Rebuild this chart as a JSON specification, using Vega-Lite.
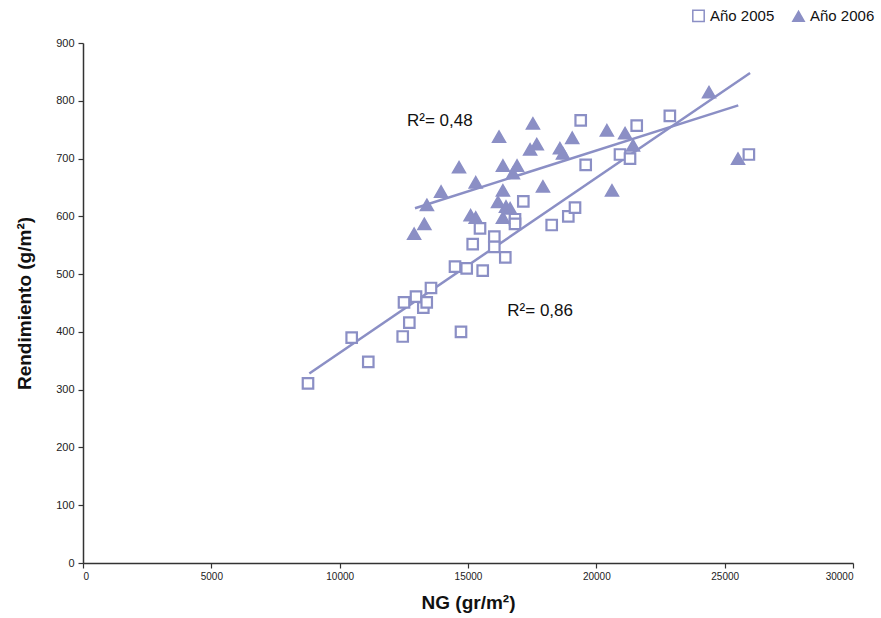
{
  "$schema": "https://vega.github.io/schema/vega-lite/v6.json",
  "width": 770,
  "height": 520,
  "autosize": {"type": "none"},
  "padding": {"left": 83, "top": 43, "right": 28, "bottom": 55},
  "background": "white",
  "config": {"view": {"stroke": null}, "font": "Liberation Sans"},
  "datasets": {
    "points": [
      {"ng": 8766, "rend": 311, "serie": "Año 2005"},
      {"ng": 10468, "rend": 390, "serie": "Año 2005"},
      {"ng": 11115, "rend": 348, "serie": "Año 2005"},
      {"ng": 12456, "rend": 392, "serie": "Año 2005"},
      {"ng": 12507, "rend": 451, "serie": "Año 2005"},
      {"ng": 12714, "rend": 416, "serie": "Año 2005"},
      {"ng": 12974, "rend": 461, "serie": "Año 2005"},
      {"ng": 13259, "rend": 442, "serie": "Año 2005"},
      {"ng": 13392, "rend": 451, "serie": "Año 2005"},
      {"ng": 13558, "rend": 476, "serie": "Año 2005"},
      {"ng": 14494, "rend": 513, "serie": "Año 2005"},
      {"ng": 14727, "rend": 400, "serie": "Año 2005"},
      {"ng": 14949, "rend": 510, "serie": "Año 2005"},
      {"ng": 15573, "rend": 506, "serie": "Año 2005"},
      {"ng": 15183, "rend": 552, "serie": "Año 2005"},
      {"ng": 15468, "rend": 579, "serie": "Año 2005"},
      {"ng": 16025, "rend": 565, "serie": "Año 2005"},
      {"ng": 16025, "rend": 547, "serie": "Año 2005"},
      {"ng": 16453, "rend": 529, "serie": "Año 2005"},
      {"ng": 16831, "rend": 595, "serie": "Año 2005"},
      {"ng": 16831, "rend": 587, "serie": "Año 2005"},
      {"ng": 17155, "rend": 626, "serie": "Año 2005"},
      {"ng": 18261, "rend": 585, "serie": "Año 2005"},
      {"ng": 18908, "rend": 600, "serie": "Año 2005"},
      {"ng": 19169, "rend": 615, "serie": "Año 2005"},
      {"ng": 19391, "rend": 766, "serie": "Año 2005"},
      {"ng": 19585, "rend": 689, "serie": "Año 2005"},
      {"ng": 20922, "rend": 707, "serie": "Año 2005"},
      {"ng": 21312, "rend": 700, "serie": "Año 2005"},
      {"ng": 21573, "rend": 757, "serie": "Año 2005"},
      {"ng": 22864, "rend": 774, "serie": "Año 2005"},
      {"ng": 25943, "rend": 707, "serie": "Año 2005"},
      {"ng": 12900, "rend": 570, "serie": "Año 2006"},
      {"ng": 13300, "rend": 587, "serie": "Año 2006"},
      {"ng": 13400, "rend": 620, "serie": "Año 2006"},
      {"ng": 13950, "rend": 643, "serie": "Año 2006"},
      {"ng": 14650, "rend": 685, "serie": "Año 2006"},
      {"ng": 15100, "rend": 602, "serie": "Año 2006"},
      {"ng": 15300, "rend": 598, "serie": "Año 2006"},
      {"ng": 15300, "rend": 659, "serie": "Año 2006"},
      {"ng": 16170, "rend": 625, "serie": "Año 2006"},
      {"ng": 16210, "rend": 738, "serie": "Año 2006"},
      {"ng": 16360, "rend": 645, "serie": "Año 2006"},
      {"ng": 16360, "rend": 688, "serie": "Año 2006"},
      {"ng": 16360, "rend": 598, "serie": "Año 2006"},
      {"ng": 16480, "rend": 617, "serie": "Año 2006"},
      {"ng": 16640, "rend": 614, "serie": "Año 2006"},
      {"ng": 16750, "rend": 675, "serie": "Año 2006"},
      {"ng": 16910, "rend": 688, "serie": "Año 2006"},
      {"ng": 17420, "rend": 716, "serie": "Año 2006"},
      {"ng": 17530, "rend": 761, "serie": "Año 2006"},
      {"ng": 17680, "rend": 725, "serie": "Año 2006"},
      {"ng": 17920, "rend": 652, "serie": "Año 2006"},
      {"ng": 18580, "rend": 718, "serie": "Año 2006"},
      {"ng": 18700, "rend": 709, "serie": "Año 2006"},
      {"ng": 19060, "rend": 736, "serie": "Año 2006"},
      {"ng": 20410, "rend": 749, "serie": "Año 2006"},
      {"ng": 20610, "rend": 645, "serie": "Año 2006"},
      {"ng": 21120, "rend": 744, "serie": "Año 2006"},
      {"ng": 21430, "rend": 723, "serie": "Año 2006"},
      {"ng": 24390, "rend": 815, "serie": "Año 2006"},
      {"ng": 25520, "rend": 700, "serie": "Año 2006"}
    ],
    "lines": [
      {"ng": 8818, "rend": 328, "serie": "Año 2005"},
      {"ng": 25990, "rend": 848, "serie": "Año 2005"},
      {"ng": 12935, "rend": 614, "serie": "Año 2006"},
      {"ng": 25530, "rend": 792, "serie": "Año 2006"}
    ],
    "labels": [
      {"ng": 12623, "rend": 756, "label": "R²= 0,48"},
      {"ng": 16531, "rend": 428, "label": "R²= 0,86"}
    ]
  },
  "encoding": {
    "x": {
      "field": "ng",
      "type": "quantitative",
      "scale": {"domain": [0, 30000], "nice": false, "zero": true},
      "axis": {
        "title": "NG (gr/m²)",
        "values": [0, 5000, 10000, 15000, 20000, 25000, 30000],
        "format": "d",
        "grid": false,
        "domainColor": "#333333",
        "domainWidth": 1.5,
        "tickColor": "#333333",
        "tickWidth": 1.2,
        "tickSize": 5,
        "labelFontSize": 10,
        "labelColor": "#222222",
        "labelPadding": 3,
        "titleFontSize": 19,
        "titleFontWeight": "bold",
        "titleColor": "#111111",
        "titlePadding": 12
      }
    },
    "y": {
      "field": "rend",
      "type": "quantitative",
      "scale": {"domain": [0, 900], "nice": false},
      "axis": {
        "title": "Rendimiento (g/m²)",
        "values": [0, 100, 200, 300, 400, 500, 600, 700, 800, 900],
        "format": "d",
        "grid": false,
        "domainColor": "#333333",
        "domainWidth": 1.5,
        "tickColor": "#333333",
        "tickWidth": 1.2,
        "tickSize": 5,
        "labelFontSize": 11,
        "labelColor": "#222222",
        "labelPadding": 4,
        "titleFontSize": 19,
        "titleFontWeight": "bold",
        "titleColor": "#111111",
        "titlePadding": 21
      }
    }
  },
  "layer": [
    {
      "data": {"name": "lines"},
      "mark": {"type": "line", "color": "#8b8fc5", "strokeWidth": 2.5},
      "encoding": {"detail": {"field": "serie", "type": "nominal"}}
    },
    {
      "data": {"name": "points"},
      "transform": [{"filter": "datum.serie === 'Año 2005'"}],
      "mark": {"type": "point", "stroke": "#8b8fc5", "strokeWidth": 2.2, "opacity": 1, "fillOpacity": 1, "size": 110},
      "encoding": {
        "shape": {
          "field": "serie",
          "type": "nominal",
          "scale": {"domain": ["Año 2005", "Año 2006"], "range": ["square", "triangle-up"]},
          "legend": {
            "title": null,
            "orient": "none",
            "direction": "horizontal",
            "legendX": 608,
            "legendY": -35,
            "labelFontSize": 15,
            "labelColor": "#111111",
            "symbolSize": 130,
            "columnPadding": 14,
            "labelOffset": 4,
            "encode": {
              "symbols": {
                "update": {
                  "stroke": {"value": "#8b8fc5"},
                  "strokeWidth": {"signal": "datum.value === 'Año 2005' ? 2.2 : 1"},
                  "size": {"signal": "datum.value === 'Año 2005' ? 105 : 200"}
                }
              }
            }
          }
        },
        "fill": {
          "field": "serie",
          "type": "nominal",
          "scale": {"domain": ["Año 2005", "Año 2006"], "range": ["#ffffff", "#8b8fc5"]},
          "legend": {
            "title": null,
            "orient": "none",
            "direction": "horizontal",
            "legendX": 608,
            "legendY": -35,
            "labelFontSize": 15,
            "labelColor": "#111111",
            "symbolSize": 130,
            "columnPadding": 14,
            "labelOffset": 4,
            "encode": {
              "symbols": {
                "update": {
                  "stroke": {"value": "#8b8fc5"},
                  "strokeWidth": {"signal": "datum.value === 'Año 2005' ? 2.2 : 1"},
                  "size": {"signal": "datum.value === 'Año 2005' ? 105 : 200"}
                }
              }
            }
          }
        }
      }
    },
    {
      "data": {"name": "points"},
      "transform": [{"filter": "datum.serie === 'Año 2006'"}],
      "mark": {"type": "point", "stroke": "#8b8fc5", "strokeWidth": 1.5, "opacity": 1, "fillOpacity": 1, "size": 170},
      "encoding": {
        "shape": {"field": "serie", "type": "nominal"},
        "fill": {"field": "serie", "type": "nominal"}
      }
    },
    {
      "data": {"name": "labels"},
      "mark": {"type": "text", "align": "left", "baseline": "alphabetic", "fontSize": 17, "color": "#111111"},
      "encoding": {"text": {"field": "label", "type": "nominal"}}
    }
  ]
}
